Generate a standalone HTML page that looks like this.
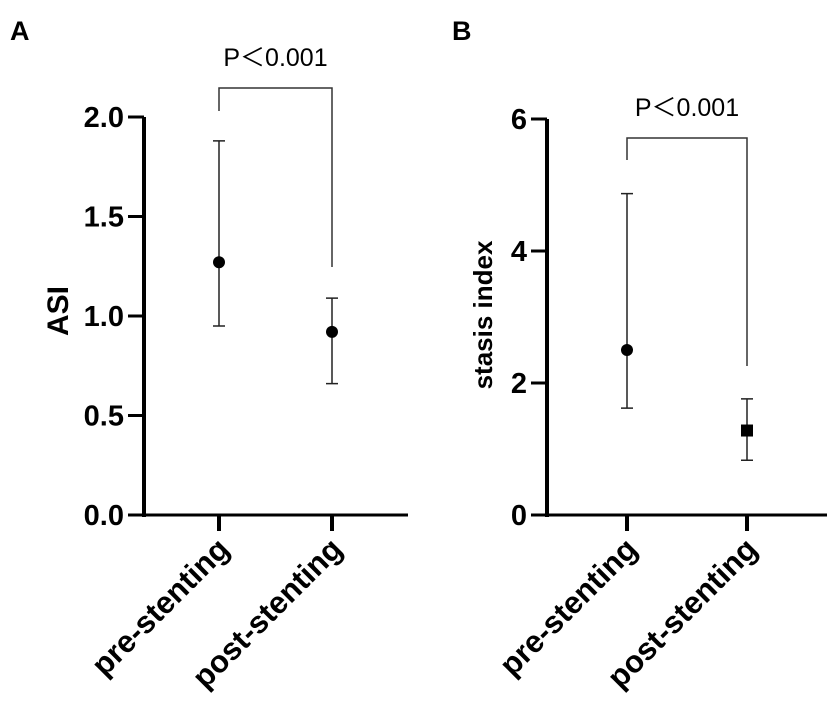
<!DOCTYPE html>
<html><head><meta charset="utf-8"><style>
body{margin:0;background:#fff;}
svg{display:block;font-family:"Liberation Sans",sans-serif;}
</style></head><body>
<svg id="chart" width="837" height="704" viewBox="0 0 837 704">
<text x="10" y="40" font-size="27" font-weight="bold">A</text>
<text x="452" y="40" font-size="27" font-weight="bold">B</text>
<g id="pa"></g>
<g id="pb"></g>
</svg>
<script>
const categories = ["pre-stenting","post-stenting"];
const aMeans = [1.27, 0.92];
const aLow = [0.95, 0.66];
const aHigh = [1.88, 1.09];
const aTicks = [0, 0.5, 1.0, 1.5, 2.0];
const aTickLabels = ["0.0","0.5","1.0","1.5","2.0"];
const bMeans = [2.5, 1.28];
const bLow = [1.62, 0.83];
const bHigh = [4.87, 1.76];
const bTicks = [0, 2, 4, 6];
const bTickLabels = ["0","2","4","6"];
const pText = "P\uFF1C0.001";
const NS="http://www.w3.org/2000/svg";
function mk(parent,tag,attrs,text){const e=document.createElementNS(NS,tag);for(const k in attrs)e.setAttribute(k,attrs[k]);if(text!==undefined)e.textContent=text;parent.appendChild(e);return e;}
function panel(g,cfg){
  const y=v=>cfg.y0-(v-cfg.vmin)/(cfg.vmax-cfg.vmin)*(cfg.y0-cfg.y1);
  const x=i=>cfg.xs[i];
  let e=mk(g,'line',{x1:cfg.ax,y1:y(cfg.vmax),x2:cfg.ax,y2:cfg.y0+2,stroke:'#000','stroke-width':4});
  
  e=mk(g,'line',{x1:cfg.ax-2,y1:cfg.y0,x2:cfg.axEnd,y2:cfg.y0,stroke:'#000','stroke-width':3});
  
  cfg.ticks.forEach((t,i)=>{
    let l=mk(g,'line',{x1:cfg.ax-16,y1:y(t),x2:cfg.ax,y2:y(t),stroke:'#000','stroke-width':3});
    
    let tx=mk(g,'text',{x:cfg.ax-20,y:y(t)+10,'font-size':29,'font-weight':'bold','text-anchor':'end'},cfg.tickLabels[i]);
    
  });
  categories.forEach((c,i)=>{
    let l=mk(g,'line',{x1:x(i),y1:cfg.y0,x2:x(i),y2:cfg.y0+16,stroke:'#000','stroke-width':4});
    
    let tx=mk(g,'text',{x:x(i)+12,y:cfg.y0+36,'font-size':31,'font-weight':'bold','text-anchor':'end',transform:`rotate(-45 ${x(i)+12} ${cfg.y0+36})`},c);
    
    let eb=mk(g,'path',{d:`M${x(i)},${y(cfg.low[i])}V${y(cfg.high[i])}M${x(i)-6},${y(cfg.low[i])}H${x(i)+6}M${x(i)-6},${y(cfg.high[i])}H${x(i)+6}`,stroke:'#222','stroke-width':1.5,fill:'none'});
    
    let m;
    if(cfg.shapes[i]==='sq') m=mk(g,'rect',{x:x(i)-6,y:y(cfg.means[i])-6,width:12,height:12,fill:'#000'});
    else m=mk(g,'circle',{cx:x(i),cy:y(cfg.means[i]),r:6,fill:'#000'});
    
  });
  let br=mk(g,'path',{d:`M${x(0)},${cfg.bL}V${cfg.bTop}H${x(1)}V${cfg.bR}`,stroke:'#333','stroke-width':1.5,fill:'none'});
  
  let pt=mk(g,'text',{x:(x(0)+x(1))/2,y:cfg.bTop-22,'font-size':25,'text-anchor':'middle'},pText);
  
  let yt=mk(g,'text',{x:0,y:0,'font-size':cfg.titleSize,'font-weight':'bold','text-anchor':'middle',transform:`translate(${cfg.titleX},${cfg.titleY}) rotate(-90)`},cfg.title);
  
}
panel(document.getElementById('pa'),{ax:144,axEnd:408,y0:515,y1:117,vmin:0,vmax:2,xs:[219,332],ticks:aTicks,tickLabels:aTickLabels,means:aMeans,low:aLow,high:aHigh,shapes:['c','c'],bTop:88,bL:111,bR:267,title:'ASI',titleX:68,titleY:311,titleSize:30});
panel(document.getElementById('pb'),{ax:547,axEnd:827,y0:515,y1:119,vmin:0,vmax:6,xs:[627,747],ticks:bTicks,tickLabels:bTickLabels,means:bMeans,low:bLow,high:bHigh,shapes:['c','sq'],bTop:138,bL:160,bR:366,title:'stasis index',titleX:492,titleY:315,titleSize:26});
</script>
</body></html>
